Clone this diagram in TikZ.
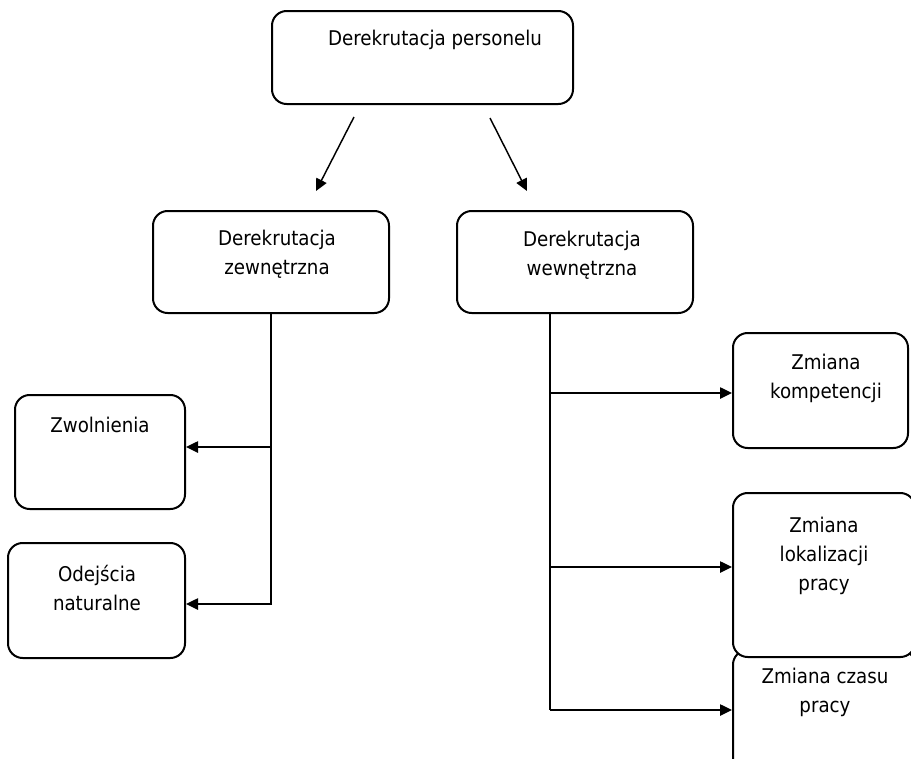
\documentclass[tikz,border=0pt]{standalone}
\usepackage{fontspec}
\setmainfont{DejaVu Sans Condensed}
\usetikzlibrary{arrows.meta,positioning,calc}

\begin{document}
\begin{tikzpicture}[
    x=0.75pt, y=-0.75pt,
    box/.style={draw=black, line width=1.5pt, rounded corners=11pt, fill=white, inner sep=0pt},
    label/.style={font=\fontsize{15.2}{21.4}\selectfont, align=center, anchor=base, inner sep=0pt},
    arrow/.style={-{Triangle[length=9pt,width=8.5pt]}, line width=1.1pt, black},
    link/.style={line width=1.1pt, black}
]
\useasboundingbox (0,0) rectangle (911,758);
\clip (0,0) rectangle (911,758);
% top level
\node[box, minimum width=225.75pt, minimum height=69.75pt] (main) at (422.5,57.5) {};
% second level
\node[box, minimum width=177pt, minimum height=76.5pt] (zewn) at (271,262) {};
\node[box, minimum width=177pt, minimum height=76.5pt] (wewn) at (575,262) {};
\coordinate (l1) at (354,117);
\coordinate (l2) at (316,191);
\coordinate (r1) at (490,118);
\coordinate (r2) at (527,191);
\draw[arrow] (l1) -- (l2);
\draw[arrow] (r1) -- (r2);
% left branch
\node[box, minimum width=127.5pt, minimum height=85.5pt] (zwol) at (100,452) {};
\node[box, minimum width=132.75pt, minimum height=86.25pt] (odej) at (96.5,600.5) {};
\draw[arrow] (zewn.south) |- ($(zwol.east)+(0,-5)$);
\draw[arrow] (zewn.south) |- ($(odej.east)+(0,3.5)$);
% right branch
\coordinate (wt) at (550,313);
\node[box, minimum width=131.25pt, minimum height=86.25pt] (komp) at (820.5,390.5) {};
\node[box, minimum width=136.5pt, minimum height=105pt] (czas) at (824,720) {};
\node[box, minimum width=136.5pt, minimum height=123pt] (lokal) at (824,575) {};
\draw[link] (wt) -- (wt |- 0,710);
\draw[arrow] (wt |- 0,393) -- (komp.west |- 0,393);
\draw[arrow] (wt |- 0,567) -- (lokal.west |- 0,567);
\draw[arrow] (wt |- 0,710) -- (czas.west |- 0,710);
% texts
\node[label] (maintxt) at (435,45) {Derekrutacja personelu};
\node[label] (zewntxt) at (277,274) {Derekrutacja\\zewnętrzna};
\node[label] (wewntxt) at (582,275) {Derekrutacja\\wewnętrzna};
\node[label] (zwoltxt) at (100,432) {Zwolnienia};
\node[label] (odejtxt) at (97,610) {Odejścia\\naturalne};
\node[label] (komptxt) at (826,398) {Zmiana\\kompetencji};
\node[label] (lokaltxt) at (824,590) {Zmiana\\lokalizacji\\pracy};
\node[label] (czastxt) at (825,712) {Zmiana czasu\\pracy};
\end{tikzpicture}
\end{document}
